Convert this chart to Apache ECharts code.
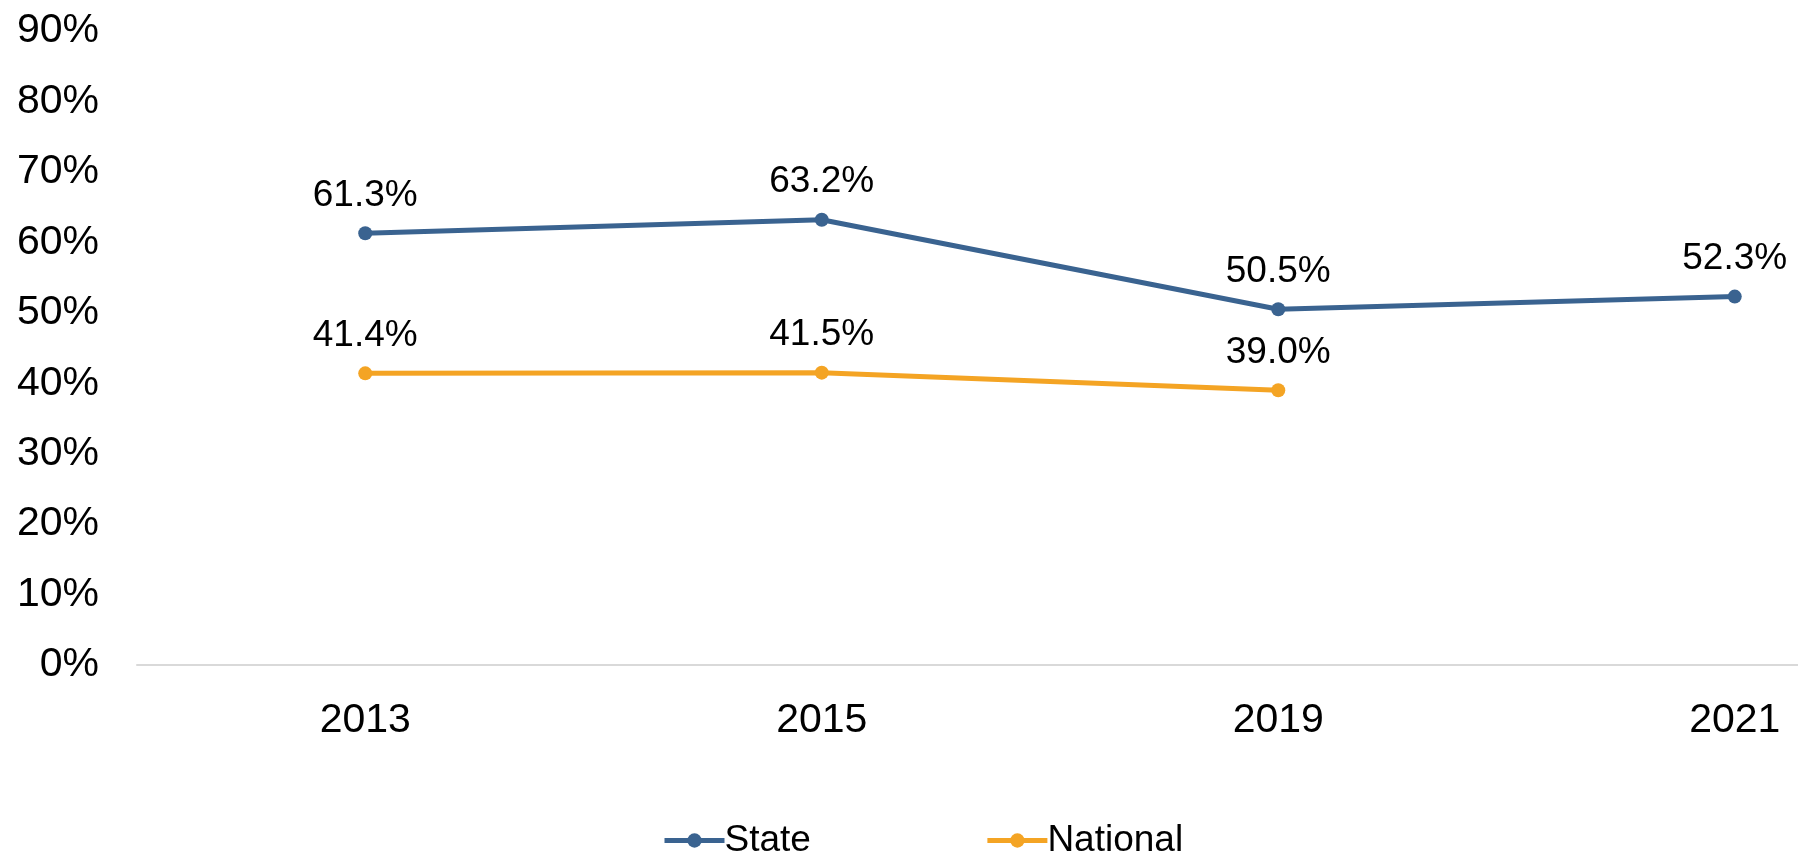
<!DOCTYPE html>
<html lang="en">
<head>
    <meta charset="UTF-8">
    <title>State vs National</title>
    <script src="https://cdn.jsdelivr.net/npm/echarts@6.0.0/dist/echarts.min.js"></script>
    <style>
        html, body { margin: 0; padding: 0; background: #fff; }
    </style>
</head>
<body>
    <div id="main" style="width: 1798px; height: 854px;"></div>
    <script>
        const years = ['2013', '2015', '2019', '2021'];
        const stateValues = [61.3, 63.2, 50.5, 52.3];
        const nationalValues = [41.4, 41.5, 39.0, null];

        const font = '"Liberation Sans", Arial, sans-serif';
        const chart = echarts.init(document.getElementById('main'));

        function lineSeries(name, data, color) {
            return {
                name: name,
                type: 'line',
                data: data,
                symbol: 'circle',
                symbolSize: 14,
                lineStyle: { color: color, width: 5 },
                itemStyle: { color: color },
                label: {
                    show: true,
                    position: 'top',
                    distance: 12,
                    color: '#000',
                    fontFamily: font,
                    fontSize: 37,
                    formatter: p => p.value.toFixed(1) + '%'
                },
                animation: false
            };
        }

        // plot area runs past the right edge of the picture, as in the original
        chart.setOption({
            backgroundColor: '#fff',
            grid: { left: 137, top: 31, width: 1826, height: 634, outerBoundsMode: 'none' },
            legend: {
                bottom: -10,
                left: 657,
                itemWidth: 60,
                itemHeight: 18,
                itemGap: 174,
                lineStyle: { width: 5 },
                textStyle: { color: '#000', fontFamily: font, fontSize: 37, padding: [0, 0, 0, -5] },
                data: ['State', 'National']
            },
            xAxis: {
                type: 'category',
                data: years,
                axisLine: { lineStyle: { color: '#d9d9d9', width: 2 } },
                axisTick: { show: false },
                axisLabel: { color: '#000', fontFamily: font, fontSize: 41, margin: 35 }
            },
            yAxis: {
                type: 'value',
                min: 0,
                max: 90,
                interval: 10,
                axisLine: { show: false },
                axisTick: { show: false },
                splitLine: { show: false },
                axisLabel: {
                    color: '#000', fontFamily: font, fontSize: 41, margin: 38,
                    formatter: '{value}%'
                }
            },
            series: [
                lineSeries('State', stateValues, '#3A6390'),
                lineSeries('National', nationalValues, '#F4A424')
            ]
        });
    </script>
</body>
</html>
